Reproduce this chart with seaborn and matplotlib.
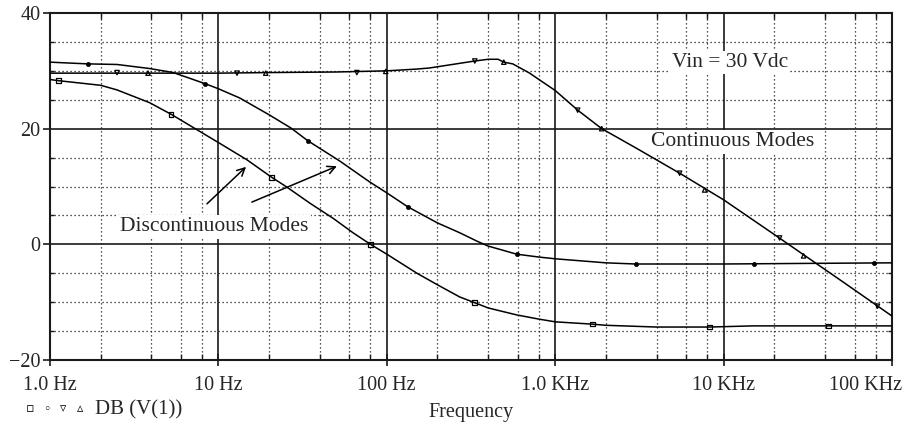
import numpy as np
import pandas as pd
import matplotlib
matplotlib.use("Agg")
import matplotlib.pyplot as plt
import matplotlib.ticker as mticker
import matplotlib.transforms as mtransforms
import seaborn as sns

# ---------------- data ----------------
# Continuous-mode curve (triangle markers)
cont_freq = [1, 2, 5, 10, 20, 50, 100, 150, 180, 245, 333, 400, 458, 495, 560,
             705, 810, 1000, 1360, 1890, 3000, 5480, 10000, 20000, 50000, 100000]
cont_db = [29.6, 29.6, 29.6, 29.6, 29.7, 29.8, 30.0, 30.3, 30.5, 31.1, 31.7, 32.0,
           32.0, 31.5, 31.2, 29.6, 28.4, 26.6, 23.2, 20.0, 16.7, 12.3, 7.7, 1.7,
           -6.3, -12.4]

# Discontinuous-mode curve, upper (circle markers)
dhi_freq = [1, 1.68, 2.5, 3.9, 5.4, 8.3, 10, 13.4, 20, 27, 34, 40, 52.6, 79, 100,
            133, 200, 271, 346, 400, 590, 800, 1000, 2000, 3000, 10000, 30000,
            100000]
dhi_db = [31.5, 31.2, 31.1, 30.4, 29.7, 27.8, 26.9, 25.3, 22.4, 20.1, 17.9, 16.6,
          14.4, 10.8, 8.9, 6.5, 3.7, 2.0, 0.5, -0.3, -1.7, -2.2, -2.5, -3.2, -3.4,
          -3.4, -3.3, -3.2]

# Discontinuous-mode curve, lower (square markers)
dlo_freq = [1, 1.12, 2, 2.5, 3.9, 5.23, 7, 10, 14.8, 20.7, 25.5, 35, 48, 63, 80,
            100, 151, 200, 271, 333, 400, 590, 790, 1000, 1660, 2000, 4000, 8260,
            15000, 42000, 100000]
dlo_db = [28.5, 28.3, 27.5, 26.7, 24.5, 22.5, 20.3, 17.6, 14.6, 11.6, 9.9, 7.1,
          4.5, 2.0, 0.0, -1.7, -5.0, -7.0, -9.1, -10.1, -11.0, -12.2, -12.9,
          -13.4, -13.8, -14.0, -14.3, -14.3, -14.1, -14.1, -14.1]

# Marker points
tdown_freq = [2.5, 12.9, 66.4, 333, 1360, 5480, 21500, 82000]
tdown_db = [29.7, 29.6, 29.7, 31.7, 23.2, 12.3, 1.1, -10.7]
tup_freq = [3.82, 19.1, 98.6, 495, 1888, 7715, 29840]
tup_db = [29.6, 29.6, 29.9, 31.5, 20.0, 9.4, -2.0]
sq_freq = [1.12, 5.23, 20.7, 80, 333, 1660, 8260, 42000]
sq_db = [28.3, 22.5, 11.6, 0.0, -10.1, -13.8, -14.3, -14.1]
circ_freq = [1.68, 8.3, 34, 133, 590, 3000, 15200, 78700]
circ_db = [31.2, 27.8, 17.9, 6.5, -1.7, -3.4, -3.4, -3.2]

x_ticks = [1, 10, 100, 1000, 10000, 100000]
x_ticklabels = ["1.0 Hz", "10 Hz", "100 Hz", "1.0 KHz", "10 KHz", "100 KHz"]
y_ticks = [-20, 0, 20, 40]

# ---------------- style ----------------
sns.set_style("white")
plt.rcParams["font.family"] = ["Liberation Serif", "DejaVu Serif"]
plt.rcParams["axes.unicode_minus"] = True

W, H = 911, 424
fig = plt.figure(figsize=(W / 100, H / 100), dpi=100)
ax = fig.add_axes([50 / W, 1 - 360 / H, (892 - 50) / W, (360 - 13) / H])
ax.set_xscale("log")

ink = "#1a1a1a"

for f, d in [(cont_freq, cont_db), (dhi_freq, dhi_db), (dlo_freq, dlo_db)]:
    sns.lineplot(x=f, y=d, ax=ax, color="black", lw=1.1, estimator=None,
                 sort=False, zorder=3)

mk = dict(ax=ax, zorder=4, legend=False)
sns.scatterplot(x=sq_freq, y=sq_db, marker="s", s=11, facecolor="none",
                edgecolor="black", linewidth=0.9, **mk)
sns.scatterplot(x=circ_freq, y=circ_db, marker="o", s=9, color="black",
                edgecolor="black", linewidth=0.5, **mk)
sns.scatterplot(x=tdown_freq, y=tdown_db, marker="v", s=10, facecolor="none",
                edgecolor="black", linewidth=0.9, **mk)
sns.scatterplot(x=tup_freq, y=tup_db, marker="^", s=10, facecolor="none",
                edgecolor="black", linewidth=0.9, **mk)

ax.set_xlim(1, 1e5)
ax.set_ylim(-20, 40)

ax.xaxis.set_major_locator(mticker.FixedLocator(x_ticks))
ax.xaxis.set_major_formatter(mticker.FixedFormatter(x_ticklabels))
minor_x = [m * 10 ** e for e in range(0, 5) for m in (2, 4, 6, 8)]
ax.xaxis.set_minor_locator(mticker.FixedLocator(minor_x))
ax.xaxis.set_minor_formatter(mticker.NullFormatter())
ax.yaxis.set_major_locator(mticker.FixedLocator(y_ticks))
ax.yaxis.set_minor_locator(mticker.MultipleLocator(5))

ax.grid(which="major", color=ink, lw=1.2, ls="-", zorder=1)
ax.grid(which="minor", color=ink, lw=0.9, ls=(0, (1, 2.2)), zorder=1)
ax.set_axisbelow(True)

for s in ax.spines.values():
    s.set_visible(True)
    s.set_color(ink)
    s.set_linewidth(1.5)

ax.tick_params(axis="x", which="major", direction="inout", length=8, width=1.2,
               color=ink, pad=7.5, labelsize=14.5, top=False, bottom=True)
ax.tick_params(axis="x", which="minor", direction="in", length=4, width=1.0,
               color=ink, top=True, bottom=True)
ax.tick_params(axis="y", which="major", direction="out", length=5, width=1.2,
               color=ink, pad=2, labelsize=14.5, left=True, right=False)
ax.tick_params(axis="y", which="minor", direction="in", length=3, width=1.0,
               color=ink, left=True, right=True)

# shift the last x tick label to stay inside the figure
lbls = ax.get_xticklabels()
lbls[-1].set_horizontalalignment("right")
lbls[-1].set_transform(lbls[-1].get_transform() +
                       mtransforms.ScaledTranslation(10 / 100, 0, fig.dpi_scale_trans))

ax.set_xlabel("Frequency", fontsize=14.5, labelpad=6)
ax.set_ylabel("")

# annotations
box = dict(facecolor="white", edgecolor="none", pad=1.5)
ax.text(10900, 31.5, "Vin = 30 Vdc", ha="center", va="center", fontsize=15.5,
        bbox=box, zorder=6)
ax.text(11300, 17.7, "Continuous Modes", ha="center", va="center", fontsize=15.5,
        bbox=box, zorder=6)
ax.text(9.5, 3.0, "Discontinuous Modes", ha="center", va="center", fontsize=15.5,
        bbox=box, zorder=6)
arrow = dict(arrowstyle="->", color="black", lw=1.1, shrinkA=0, shrinkB=0,
             mutation_scale=14)
ax.annotate("", xy=(14.6, 13.4), xytext=(8.55, 7.0), arrowprops=arrow, zorder=6)
ax.annotate("", xy=(50.5, 13.5), xytext=(15.8, 7.3), arrowprops=arrow, zorder=6)

# legend-like footer
sym_kw = dict(family=["DejaVu Sans"], fontsize=9, ha="center", va="center",
              color="black")
for xp, sym in zip([30, 47, 63, 80], ["\u25ab", "\u25e6", "\u25bf", "\u25b5"]):
    fig.text(xp / W, 1 - 409 / H, sym, **sym_kw)
fig.text(95 / W, 1 - 410 / H, "DB (V(1))", ha="left", va="center", fontsize=15)

fig.savefig("out.png", dpi=100)
